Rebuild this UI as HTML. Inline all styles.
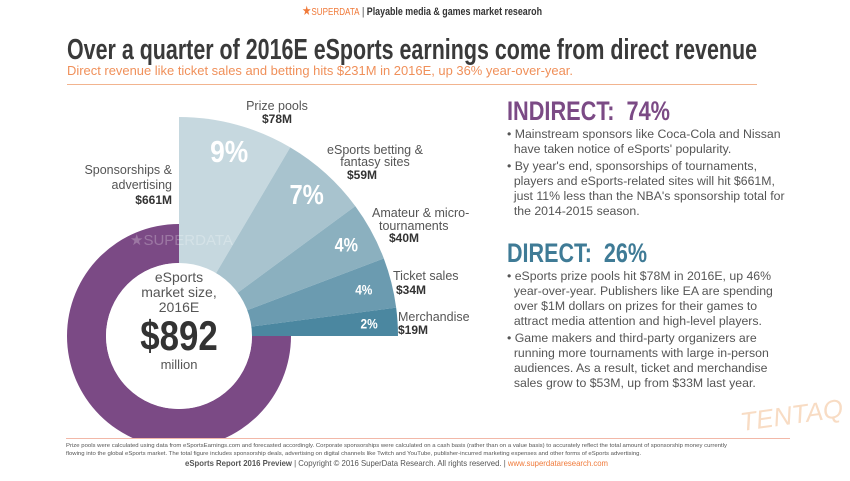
<!DOCTYPE html>
<html><head><meta charset="utf-8"><style>
body{margin:0;background:#fff;width:850px;height:481px;overflow:hidden;position:relative;font-family:"Liberation Sans",sans-serif;}
.abs{position:absolute;white-space:nowrap;}
.fit{transform-origin:0 0;}
.body{font-size:12.3px;color:#555;line-height:15px;}
</style></head><body>
<div class="abs fit" data-w="240" style="left:302px;top:3px;font-size:11px;color:#333;"><span style="color:#f07a3a;font-size:13px">★</span><span style="color:#f07a3a;font-size:10px">SUPERDATA</span> | <b>Playable media &amp; games market researoh</b></div>
<div class="abs fit" data-w="690" style="left:67px;top:34px;font-size:29px;font-weight:bold;color:#3a3a3a;">Over a quarter of 2016E eSports earnings come from direct revenue</div>
<div class="abs fit" data-w="506" style="left:67px;top:63px;font-size:13px;color:#f0905a;">Direct revenue like ticket sales and betting hits $231M in 2016E, up 36% year-over-year.</div>
<div class="abs" style="left:67px;top:84px;width:690px;height:1px;background:#f2b48f"></div>

<svg id="chart" width="850" height="481" style="position:absolute;left:0;top:0">
<g id="slices"></g>
</svg>

<div class="abs fit" data-w="163" style="left:507px;top:96px;font-size:27px;font-weight:bold;color:#7b4a85">INDIRECT:&nbsp; 74%</div>
<div class="abs body" style="left:507px;top:127px;">• Mainstream sponsors like Coca-Cola and Nissan<br>&nbsp;&nbsp;have taken notice of eSports' popularity.<br><div style="height:2px"></div>• By year's end, sponsorships of tournaments,<br>&nbsp;&nbsp;players and eSports-related sites will hit $661M,<br>&nbsp;&nbsp;just 11% less than the NBA's sponsorship total for<br>&nbsp;&nbsp;the 2014-2015 season.</div>
<div class="abs fit" data-w="140" style="left:507px;top:238px;font-size:27px;font-weight:bold;color:#3f7b96">DIRECT:&nbsp; 26%</div>
<div class="abs body" style="left:507px;top:269px;">• eSports prize pools hit $78M in 2016E, up 46%<br>&nbsp;&nbsp;year-over-year. Publishers like EA are spending<br>&nbsp;&nbsp;over $1M dollars on prizes for their games to<br>&nbsp;&nbsp;attract media attention and high-level players.<br><div style="height:2px"></div>• Game makers and third-party organizers are<br>&nbsp;&nbsp;running more tournaments with large in-person<br>&nbsp;&nbsp;audiences. As a result, ticket and merchandise<br>&nbsp;&nbsp;sales grow to $53M, up from $33M last year.</div>

<div class="abs" style="left:0;top:438px;width:850px;height:43px;background:#fff"></div>
<div class="abs" style="left:66px;top:438px;width:724px;height:1px;background:#f2b8a8"></div>
<div class="abs fit" data-w="661" style="left:66px;top:442px;font-size:5.6px;line-height:8px;color:#555">Prize pools were calculated using data from eSportsEarnings.com and forecasted accordingly. Corporate sponsorships were calculated on a cash basis (rather than on a value basis) to accurately reflect the total amount of sponsorship money currently<br>flowing into the global eSports market. The total figure includes sponsorship deals, advertising on digital channels like Twitch and YouTube, publisher-incurred marketing expenses and other forms of eSports advertising.</div>
<div class="abs fit" data-w="423" style="left:185px;top:458px;font-size:8.5px;color:#555"><b>eSports Report 2016 Preview</b> | Copyright © 2016 SuperData Research. All rights reserved. | <span style="color:#f07a3a">www.superdataresearch.com</span></div>
<div class="abs" style="left:740px;top:400px;font-size:26px;color:#f8dcc4;transform:rotate(-8deg);font-style:italic">TENTAQ</div>

<script>
const categories=["Prize pools","eSports betting & fantasy sites","Amateur & micro-tournaments","Ticket sales","Merchandise"];
const values=[78,59,40,34,19];
const pctLabels=["9%","7%","4%","4%","2%"];
const indirectValue=661;
const totalLabel="$892";
const colors=["#c6d8df","#a8c3ce","#8bb0bf","#6b9bb0","#4b87a0"];
const NS="http://www.w3.org/2000/svg";
const svg=document.getElementById('slices');
const cx=179,cy=336,R=219,ringOuter=112,ringInner=73;
const total=values.reduce((a,b)=>a+b,0);
function pt(r,a){return [cx+r*Math.cos(a*Math.PI/180),cy+r*Math.sin(a*Math.PI/180)];}
function mk(tag,attrs){const e=document.createElementNS(NS,tag);for(const k in attrs)e.setAttribute(k,attrs[k]);svg.appendChild(e);return e;}
const ringSpan=270;
let p1=pt(ringOuter,0),p2=pt(ringOuter,ringSpan),q1=pt(ringInner,ringSpan),q2=pt(ringInner,0);
const ring=mk('path',{d:`M${p1}A${ringOuter},${ringOuter} 0 1 1 ${p2}L${q1}A${ringInner},${ringInner} 0 1 0 ${q2}Z`,fill:'#7b4a85'});


let a=-90;
const sizes=[31,28,19,14,14];
values.forEach((v,i)=>{
  const span=v/total*90;const a2=a+span;
  const s=pt(R,a),e=pt(R,a2);
  const p=mk('path',{d:`M${cx},${cy}L${s}A${R},${R} 0 0 1 ${e}Z`,fill:colors[i]});
  
  
  const mid=(a+a2)/2;const lp=pt(R*0.87,mid);
  const t=mk('text',{x:lp[0],y:lp[1],'text-anchor':'middle','dominant-baseline':'central',fill:'#fff','font-weight':'bold','font-size':sizes[i],'font-family':'Liberation Sans, sans-serif',transform:`translate(${lp[0]},0) scale(0.85,1) translate(${-lp[0]},0)`});
  t.textContent=pctLabels[i];
  
  
  a=a2;
});
mk('circle',{cx:cx,cy:cy,r:ringInner,fill:'#fff'});
function txt(x,y,s,o){const t=mk('text',Object.assign({x:x,y:y,'font-family':'Liberation Sans, sans-serif','font-size':12.5,fill:'#555'},o||{}));t.textContent=s;

return t;}
txt(130,245,'★SUPERDATA',{fill:'#ffffff','fill-opacity':0.25,'font-size':15});
txt(cx,282,'eSports',{'text-anchor':'middle','font-size':14});
txt(cx,297,'market size,',{'text-anchor':'middle','font-size':14});
txt(cx,312,'2016E',{'text-anchor':'middle','font-size':14});
txt(cx,350,totalLabel,{'text-anchor':'middle','font-size':42,'font-weight':'bold',fill:'#333',transform:`translate(${cx},0) scale(0.83,1) translate(${-cx},0)`});
txt(cx,369,'million',{'text-anchor':'middle','font-size':13});
const B={'font-weight':'bold',fill:'#333','font-size':12};
txt(277,110,'Prize pools',{'text-anchor':'middle'});txt(277,123,'$'+values[0]+'M',Object.assign({'text-anchor':'middle'},B));
txt(375,154,'eSports betting &',{'text-anchor':'middle'});txt(375,166,'fantasy sites',{'text-anchor':'middle'});txt(362,179,'$'+values[1]+'M',Object.assign({'text-anchor':'middle'},B));
txt(372,217,'Amateur & micro-');txt(379,230,'tournaments');txt(389,242,'$'+values[2]+'M',B);
txt(393,280,'Ticket sales');txt(396,294,'$'+values[3]+'M',B);
txt(398,321,'Merchandise');txt(398,334,'$'+values[4]+'M',B);
txt(172,174,'Sponsorships &',{'text-anchor':'end'});txt(172,189,'advertising',{'text-anchor':'end'});txt(172,204,'$'+indirectValue+'M',Object.assign({'text-anchor':'end'},B));
document.querySelectorAll('.fit').forEach(el=>{const w=+el.dataset.w;const r=el.getBoundingClientRect().width;if(r>0)el.style.transform=`scaleX(${w/r})`;});
</script>
</body></html>
